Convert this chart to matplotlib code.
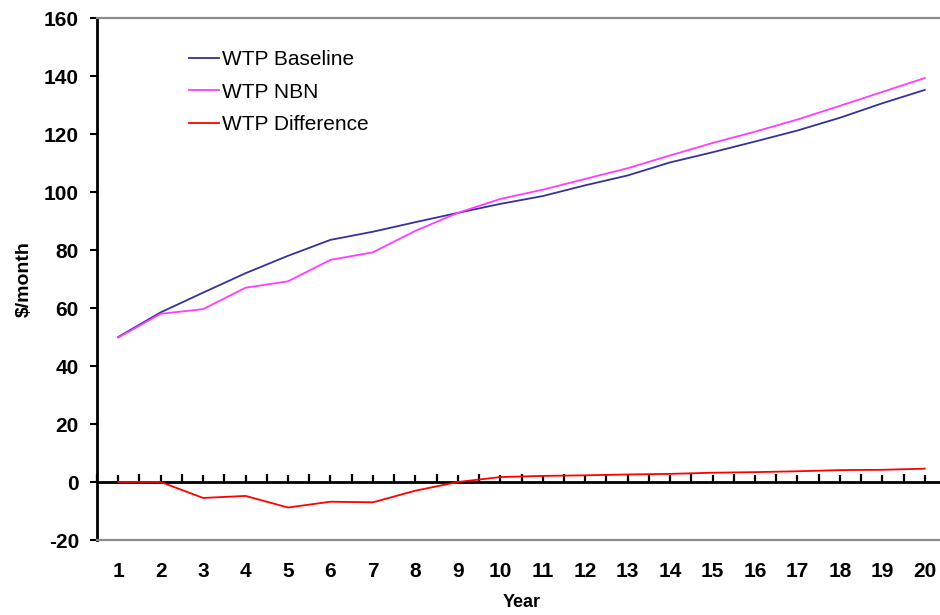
import matplotlib
matplotlib.use("Agg")
import matplotlib.pyplot as plt
from matplotlib.ticker import FixedLocator

plt.rcParams['font.family'] = ['Liberation Sans', 'DejaVu Sans']

years = list(range(1, 21))
year_labels = [str(y) for y in years]
wtp_baseline = [50.0, 58.5, 65.3, 72.0, 78.0, 83.5, 86.3, 89.6, 92.8, 95.9,
                98.6, 102.3, 105.7, 110.2, 113.7, 117.4, 121.2, 125.6, 130.6, 135.2]
wtp_nbn = [49.8, 58.0, 59.6, 67.0, 69.2, 76.6, 79.2, 86.6, 92.8, 97.6,
           100.8, 104.5, 108.2, 112.6, 116.9, 120.8, 125.0, 129.7, 134.5, 139.3]
wtp_diff = [0.0, 0.0, -5.5, -4.8, -8.8, -6.8, -7.0, -3.0, 0.0, 1.7,
            2.1, 2.3, 2.6, 2.8, 3.2, 3.4, 3.7, 4.1, 4.2, 4.6]
y_ticks = [-20, 0, 20, 40, 60, 80, 100, 120, 140, 160]

W, H = 940, 615
fig = plt.figure(figsize=(W / 100, H / 100), dpi=100)
ax = fig.add_axes([97 / W, 1 - 540 / H, 849 / W, 522 / H])

ax.plot(years, wtp_baseline, color='#333399', lw=1.3, label='WTP Baseline')
ax.plot(years, wtp_nbn, color='#FF3CFF', lw=1.3, label='WTP NBN')
ax.plot(years, wtp_diff, color='#FF0000', lw=1.3, label='WTP Difference')

ax.set_xlim(0.5, 20.5)
ax.set_ylim(-20, 160)
ax.set_yticks(y_ticks)
ax.set_yticklabels([str(v) for v in y_ticks], fontsize=15, fontweight='bold')
ax.set_xticks(years)
ax.set_xticklabels(year_labels, fontsize=15, fontweight='bold')
ax.tick_params(axis='x', length=0, pad=16)
ax.tick_params(axis='y', length=5, width=1.5, direction='out', pad=8, color='black')

for s in ('top', 'bottom'):
    ax.spines[s].set_color('#8a8a8a')
    ax.spines[s].set_linewidth(1.6)
ax.spines['right'].set_visible(False)
ax.spines['left'].set_color('black')
ax.spines['left'].set_linewidth(2)

# category axis crossing at zero
sec = ax.secondary_xaxis(0, transform=ax.transData)
sec.spines['top'].set_visible(False)
sec.spines['bottom'].set_color('black')
sec.spines['bottom'].set_linewidth(2)
sec.xaxis.set_major_locator(FixedLocator([y - 0.5 for y in years] + [20.5]))
sec.xaxis.set_minor_locator(FixedLocator(years))
sec.tick_params(axis='x', which='major', direction='in', length=6, width=1.6,
                labelbottom=False, labeltop=False, color='black')
sec.tick_params(axis='x', which='minor', direction='in', length=5, width=1.6,
                labelbottom=False, labeltop=False, color='black')

ax.set_xlabel('Year', fontsize=13, fontweight='bold', labelpad=9)
ax.set_ylabel('$/month', fontsize=14, fontweight='bold', labelpad=8)

leg = ax.legend(loc='upper left', bbox_to_anchor=(189 / W, 1 - 50 / H),
                bbox_transform=fig.transFigure, frameon=False, fontsize=15,
                borderpad=0, borderaxespad=0, handlelength=1.45,
                handletextpad=0.15, labelspacing=0.66)

fig.savefig('out.png', dpi=100)
